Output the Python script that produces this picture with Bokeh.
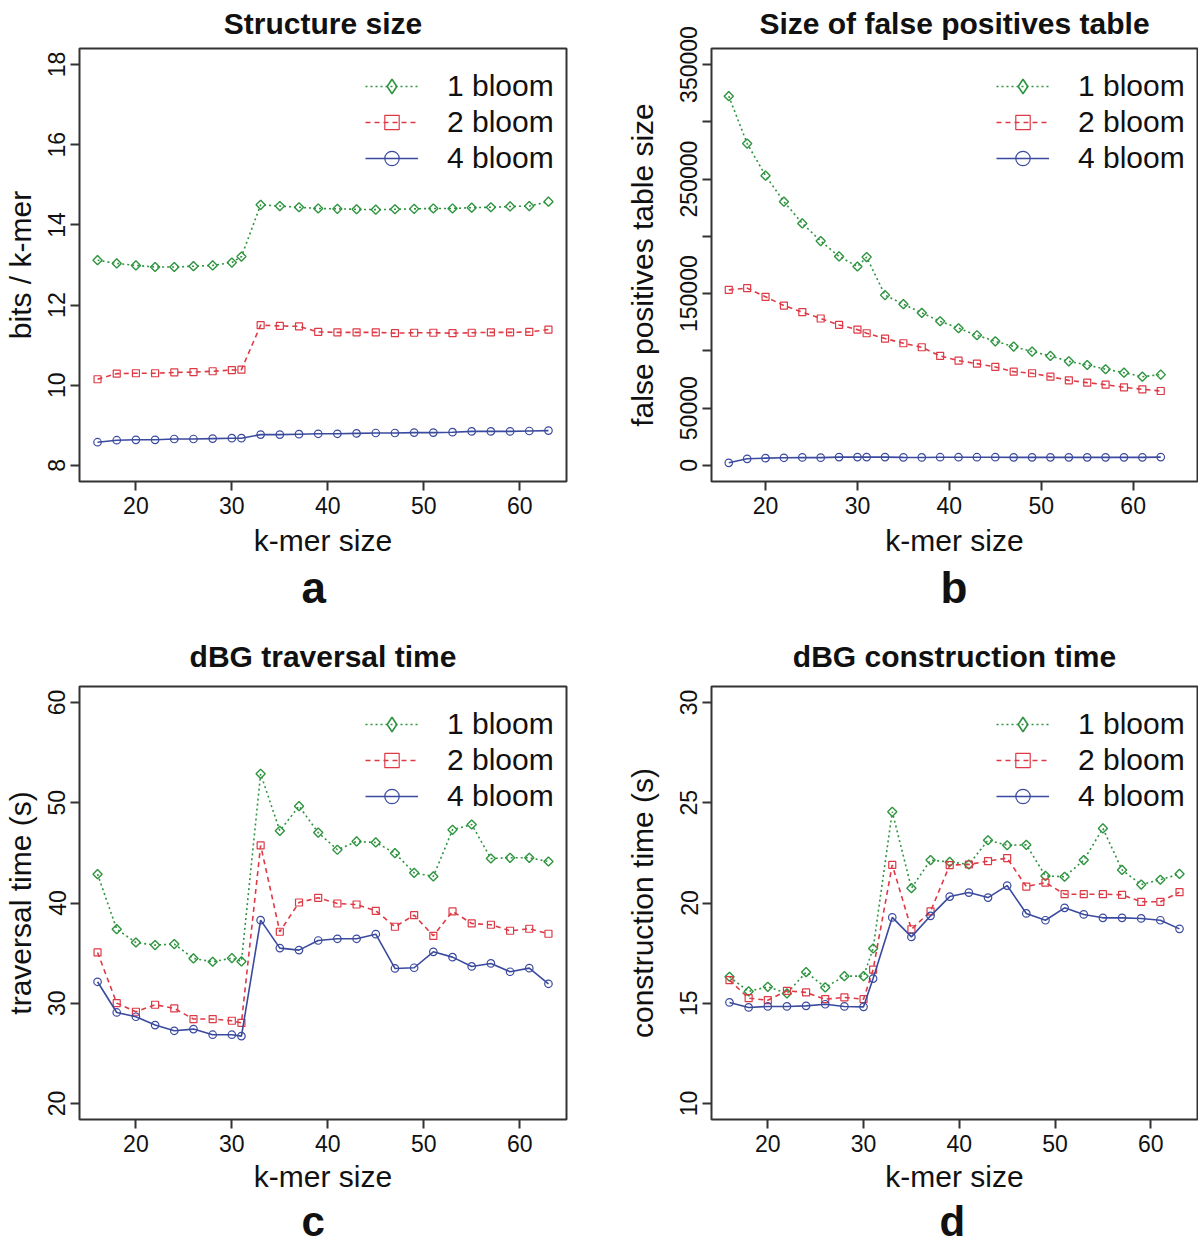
import numpy as np
from bokeh.plotting import figure
from bokeh.models import (Range1d, FixedTicker, Legend, LegendItem, Title,
                          ColumnDataSource, PrintfTickFormatter)
from bokeh.layouts import column, row
from bokeh.embed import file_html
from bokeh.resources import INLINE

# ---------------- data ----------------
kmer = [16, 18, 20, 22, 24, 26, 28, 30, 31, 33, 35, 37, 39, 41, 43, 45, 47,
        49, 51, 53, 55, 57, 59, 61, 63]

# (a) Structure size, bits / k-mer
size_1 = [13.12, 13.04, 12.99, 12.95, 12.95, 12.97, 12.99, 13.06, 13.21, 14.50,
          14.47, 14.44, 14.41, 14.40, 14.39, 14.38, 14.39, 14.40, 14.41, 14.41,
          14.43, 14.44, 14.46, 14.47, 14.58]
size_2 = [10.15, 10.29, 10.30, 10.30, 10.32, 10.33, 10.35, 10.38, 10.39, 11.50,
          11.48, 11.47, 11.33, 11.32, 11.32, 11.32, 11.30, 11.31, 11.31, 11.30,
          11.31, 11.32, 11.32, 11.33, 11.39]
size_4 = [8.58, 8.63, 8.64, 8.64, 8.66, 8.66, 8.67, 8.68, 8.68, 8.77, 8.77,
          8.78, 8.79, 8.79, 8.80, 8.81, 8.81, 8.82, 8.82, 8.83, 8.85, 8.85,
          8.85, 8.86, 8.87]

# (b) Size of false positives table
fp_1 = [322400, 281000, 253000, 230300, 211300, 195900, 182500, 173700, 181900,
        148700, 140800, 133200, 125900, 119800, 113700, 108400, 103800, 99400,
        95600, 90900, 87700, 84000, 81000, 77500, 79300]
fp_2 = [153300, 154800, 147200, 139600, 133800, 128300, 122700, 118600, 115400,
        110800, 106700, 103200, 95600, 91500, 88900, 86000, 81900, 80500, 77500,
        74300, 72300, 70500, 68200, 66500, 65000]
fp_4 = [2300, 5800, 6400, 6700, 7000, 6800, 7300, 7300, 7300, 7300, 7100, 7000,
        7200, 7200, 7200, 7200, 7100, 7100, 7100, 7100, 7100, 7100, 7100, 7100,
        7300]

# (c) dBG traversal time (s)
trav_1 = [42.88, 37.39, 36.06, 35.80, 35.90, 34.47, 34.14, 34.50, 34.17, 52.89,
          47.20, 49.66, 47.03, 45.31, 46.14, 46.04, 44.97, 43.01, 42.65, 47.30,
          47.83, 44.44, 44.51, 44.51, 44.14]
trav_2 = [35.07, 30.01, 29.15, 29.85, 29.48, 28.42, 28.42, 28.25, 28.05, 45.74,
          37.13, 40.05, 40.52, 39.95, 39.85, 39.22, 37.63, 38.79, 36.73, 39.16,
          37.96, 37.83, 37.23, 37.43, 36.93]
trav_4 = [32.14, 29.08, 28.65, 27.82, 27.25, 27.42, 26.86, 26.86, 26.72, 38.29,
          35.50, 35.30, 36.26, 36.43, 36.43, 36.89, 33.47, 33.54, 35.13, 34.60,
          33.67, 33.97, 33.14, 33.50, 31.94]

# (d) dBG construction time (s)
cons_1 = [16.32, 15.59, 15.82, 15.49, 16.55, 15.79, 16.35, 16.35, 17.73, 24.55,
          20.74, 22.14, 22.05, 21.92, 23.13, 22.88, 22.90, 21.35, 21.31, 22.14,
          23.72, 21.65, 20.92, 21.16, 21.45]
cons_2 = [16.15, 15.25, 15.15, 15.62, 15.54, 15.20, 15.29, 15.20, 16.68, 21.90,
          18.69, 19.58, 21.89, 21.92, 22.09, 22.24, 20.82, 21.02, 20.44, 20.44,
          20.44, 20.41, 20.06, 20.06, 20.54]
cons_4 = [15.04, 14.79, 14.84, 14.84, 14.87, 14.95, 14.84, 14.82, 16.23, 19.28,
          18.31, 19.36, 20.32, 20.52, 20.27, 20.87, 19.48, 19.14, 19.76, 19.43,
          19.26, 19.26, 19.23, 19.14, 18.71]

series_names = ["1 bloom", "2 bloom", "4 bloom"]
x_ticks = [20, 30, 40, 50, 60]

# ---------------- style ----------------
FONT = "Liberation Sans"
GREEN = "#2f9440"
RED = "#de3a46"
BLUE = "#3a4a9e"
FRAME = "#333333"
TXT = "#111111"


def make_panel(title, ylabel, letter, ys, x_rng, y_rng, y_ticks, top,
               left, right, width, height, bottom, letter_offset,
               title_standoff, title_valign, ylab_standoff, xlab_standoff,
               letter_size, letter_standoff, y_overrides=None, y_fmt=None):
    p = figure(width=width, height=height, x_range=Range1d(*x_rng),
               y_range=Range1d(*y_rng), output_backend="svg",
               toolbar_location=None, min_border_left=left,
               min_border_right=right, min_border_top=top,
               min_border_bottom=bottom, title=title)
    p.title.align = "center"
    p.title.vertical_align = title_valign
    p.title.text_font = FONT
    p.title.text_font_size = "30px"
    p.title.text_font_style = "bold"
    p.title.text_color = TXT
    p.title.standoff = title_standoff

    p.grid.visible = False
    p.outline_line_color = FRAME
    p.outline_line_width = 2
    p.background_fill_color = "white"
    p.border_fill_color = "white"

    for ax in (p.xaxis[0], p.yaxis[0]):
        ax.axis_line_color = None
        ax.major_tick_line_color = FRAME
        ax.major_tick_line_width = 2
        ax.major_tick_out = 9
        ax.major_tick_in = 0
        ax.minor_tick_line_color = None
        ax.major_label_text_font = FONT
        ax.major_label_text_font_size = "23px"
        ax.major_label_text_color = TXT
        ax.axis_label_text_font = FONT
        ax.axis_label_text_font_size = "30px"
        ax.axis_label_text_font_style = "normal"
        ax.axis_label_text_color = TXT

    p.xaxis.ticker = FixedTicker(ticks=x_ticks)
    p.xaxis.axis_label = "k-mer size"
    p.xaxis.major_label_standoff = 6
    p.xaxis.axis_label_standoff = xlab_standoff

    p.yaxis.ticker = FixedTicker(ticks=y_ticks)
    p.yaxis.axis_label = ylabel
    p.yaxis.major_label_orientation = "vertical"
    p.yaxis.major_label_standoff = 5
    p.yaxis.axis_label_standoff = ylab_standoff
    if y_fmt is not None:
        p.yaxis.formatter = y_fmt
    if y_overrides is not None:
        p.yaxis.major_label_overrides = y_overrides

    y1, y2, y4 = ys
    s1 = ColumnDataSource(dict(x=kmer, y=y1))
    s2 = ColumnDataSource(dict(x=kmer, y=y2))
    s4 = ColumnDataSource(dict(x=kmer, y=y4))

    l1 = p.line("x", "y", source=s1, line_color=GREEN, line_width=1.6,
                line_dash="2 3")
    p.scatter("x", "y", source=s1, marker="square", angle=np.pi / 4, size=6.5,
              line_color=GREEN, fill_color=None, line_width=1.4)
    l2 = p.line("x", "y", source=s2, line_color=RED, line_width=1.6,
                line_dash="5 4")
    m2 = p.scatter("x", "y", source=s2, marker="square", size=7,
                   line_color=RED, fill_color=None, line_width=1.2)
    l4 = p.line("x", "y", source=s4, line_color=BLUE, line_width=1.6)
    m4 = p.scatter("x", "y", source=s4, marker="circle", size=7.5,
                   line_color=BLUE, fill_color=None, line_width=1.2)

    # legend-only diamond (legend markers are drawn unrotated); NaN = not drawn
    dummy = p.scatter(x=[np.nan], y=[np.nan], marker="diamond", size=12,
                      line_color=GREEN, fill_color=None, line_width=1.6)

    frame_w = width - left - right
    frame_h = height - top - bottom
    row_h = 36
    leg_h = 3 * row_h
    legend = Legend(items=[
        LegendItem(label=series_names[0], renderers=[l1, dummy]),
        LegendItem(label=series_names[1], renderers=[l2, m2]),
        LegendItem(label=series_names[2], renderers=[l4, m4]),
    ], location=(frame_w - 201, frame_h - 20 - leg_h),
        border_line_color=None, background_fill_alpha=0,
        label_text_font=FONT, label_text_font_size="30px",
        label_text_color=TXT, glyph_width=53, glyph_height=row_h,
        label_height=row_h, spacing=0, label_standoff=29, label_width=112,
        padding=0, margin=0)
    p.add_layout(legend, "center")

    p.add_layout(Title(text=letter, align="left", text_font=FONT,
                       text_font_size=letter_size, text_font_style="bold",
                       text_color=TXT, offset=letter_offset,
                       standoff=letter_standoff), "below")
    return p


pa = make_panel("Structure size", "bits / k-mer", "a",
                (size_1, size_2, size_4), (14.12, 64.88), (7.6, 18.4),
                [8, 10, 12, 14, 16, 18], top=48, left=79, right=34, width=600,
                height=622, bottom=141, letter_offset=222, title_standoff=13,
                title_valign="top", ylab_standoff=9, xlab_standoff=7,
                letter_size="44px", letter_standoff=2)

pb = make_panel("Size of false positives table", "false positives table size",
                "b", (fp_1, fp_2, fp_4), (14.12, 67.0), (-14000, 364000),
                [0, 50000, 100000, 150000, 200000, 250000, 300000, 350000],
                top=48, left=111, right=1, width=598, height=622, bottom=141,
                letter_offset=229, title_standoff=13, title_valign="top",
                ylab_standoff=19, xlab_standoff=7, letter_size="44px",
                letter_standoff=2,
                y_overrides={100000: "", 200000: "", 300000: ""},
                y_fmt=PrintfTickFormatter(format="%d"))

pc = make_panel("dBG traversal time", "traversal time (s)", "c",
                (trav_1, trav_2, trav_4), (14.12, 64.88), (18.4, 61.6),
                [20, 30, 40, 50, 60], top=64, left=79, right=34, width=600,
                height=623, bottom=126, letter_offset=222, title_standoff=27,
                title_valign="bottom", ylab_standoff=9, xlab_standoff=5,
                letter_size="42px", letter_standoff=0)

pd_ = make_panel("dBG construction time", "construction time (s)", "d",
                 (cons_1, cons_2, cons_4), (14.12, 64.88), (9.2, 30.8),
                 [10, 15, 20, 25, 30], top=64, left=111, right=1, width=598,
                 height=623, bottom=126, letter_offset=228, title_standoff=27,
                 title_valign="bottom", ylab_standoff=19, xlab_standoff=5,
                 letter_size="42px", letter_standoff=0)

layout = column(row(pa, pb), row(pc, pd_))
open("out.html", "w").write(file_html(layout, INLINE))
